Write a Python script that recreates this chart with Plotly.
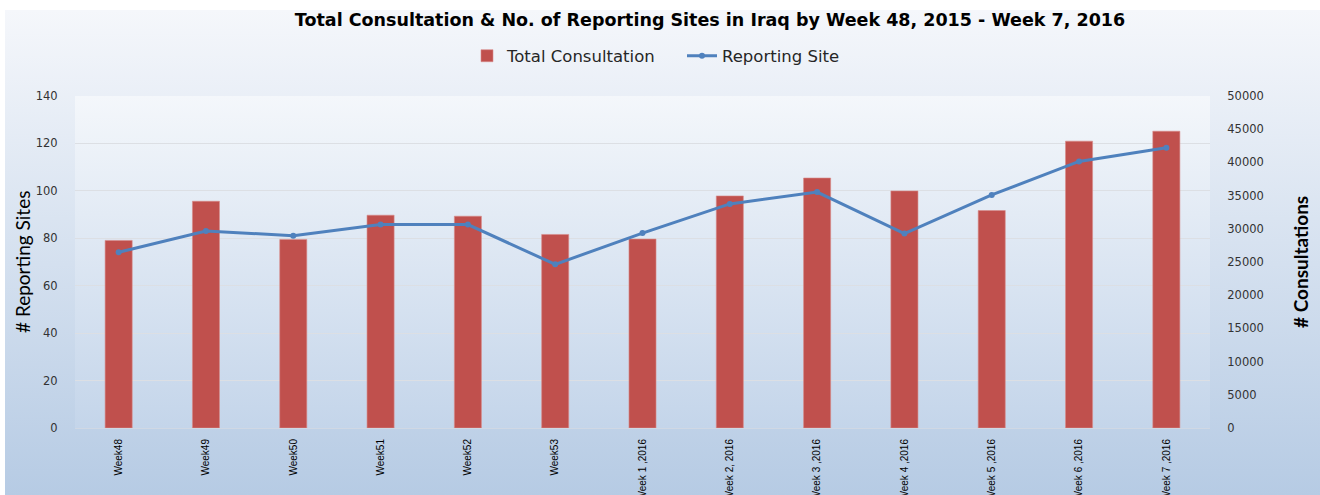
import base64
import plotly.graph_objects as go

weeks = ["Week48", "Week49", "Week50", "Week51", "Week52", "Week53",
         "Week 1 ,2016", "Week 2, 2016", "Week 3 ,2016", "Week 4 ,2016",
         "Week 5 ,2016", "Week 6 ,2016", "Week 7 ,2016"]
consultations = [28250, 34150, 28400, 32050, 31900, 29150,
                 28450, 34950, 37650, 35700, 32750, 43200, 44700]
reporting_sites = [74.1, 83.1, 81.1, 85.8, 85.8, 69.0,
                   82.2, 94.5, 99.5, 82.0, 98.3, 112.4, 118.2]

W, H = 1320, 495
L, R, T, B = 75, 110, 96, 67
pw, ph = W - L - R, H - T - B


def grad(top, bottom):
    svg = ('<svg xmlns="http://www.w3.org/2000/svg" width="100" height="100" preserveAspectRatio="none">'
           '<defs><linearGradient id="g" x1="0" y1="0" x2="0" y2="1">'
           f'<stop offset="0" stop-color="{top}"/><stop offset="1" stop-color="{bottom}"/>'
           '</linearGradient></defs><rect width="100" height="100" fill="url(#g)"/></svg>')
    return "data:image/svg+xml;base64," + base64.b64encode(svg.encode()).decode()


fig = go.Figure()
# bars on the base axis (right side), line on the overlay (left side) so it sits on top
fig.add_trace(go.Bar(x=weeks, y=consultations, name="Total Consultation",
                     marker=dict(color="#c0504d", line=dict(color="#d98c8a", width=0.6)),
                     yaxis="y"))
fig.add_trace(go.Scatter(x=weeks, y=reporting_sites, name="Reporting Site",
                         mode="lines+markers", yaxis="y2",
                         line=dict(color="#4f81bd", width=3),
                         marker=dict(size=6, color="#4f81bd")))

tick_font = dict(family="DejaVu Sans", size=11.5, color="#333333")

fig.update_layout(
    width=W, height=H,
    margin=dict(l=L, r=R, t=T, b=B, autoexpand=False),
    paper_bgcolor="white",
    plot_bgcolor="rgba(0,0,0,0)",
    bargap=0.69,
    title=dict(text="<b>Total Consultation & No. of Reporting Sites in Iraq by Week 48, 2015 - Week 7, 2016</b>",
               x=710 / W, xanchor="center", y=1 - 20 / H, yanchor="middle",
               font=dict(family="DejaVu Sans", size=17.5, color="black")),
    legend=dict(orientation="h", x=(467 - L) / pw, xanchor="left",
                y=1 + (T - 56) / ph, yanchor="middle", entrywidth=170,
                font=dict(family="DejaVu Sans", size=16.5, color="#262626"),
                bgcolor="rgba(0,0,0,0)", traceorder="normal"),
    xaxis=dict(range=[-0.5, 12.5], tickangle=-90,
               tickfont=dict(family="Liberation Sans", size=10, color="black"),
               showgrid=False, showline=True, linecolor="#d0d8e4", linewidth=1,
               ticks="outside", ticklen=6, tickcolor="rgba(0,0,0,0)", fixedrange=True,
               automargin=False),
    yaxis=dict(range=[0, 50000], dtick=5000, tickformat="d", side="right",
               showgrid=False, zeroline=False, ticks="outside", ticklen=14,
               tickcolor="rgba(0,0,0,0)", tickfont=tick_font, automargin=False),
    yaxis2=dict(range=[0, 140], dtick=20, overlaying="y", side="left",
                showgrid=True, gridcolor="#dcdfe4", gridwidth=1,
                zeroline=False, ticks="outside", ticklen=14, tickcolor="rgba(0,0,0,0)",
                tickfont=tick_font, automargin=False),
    images=[
        dict(source=grad("#f5f7fb", "#b6cbe4"), xref="paper", yref="paper",
             x=(5 - L) / pw, y=1 + (T - 10) / ph, sizex=(W - 5) / pw, sizey=(H - 10) / ph,
             xanchor="left", yanchor="top", sizing="stretch", layer="below"),
        dict(source=grad("#f4f7fb", "#c4d5ea"), xref="paper", yref="paper",
             x=0, y=1, sizex=1, sizey=1,
             xanchor="left", yanchor="top", sizing="stretch", layer="below"),
    ],
    annotations=[
        dict(text="# Reporting Sites", xref="paper", yref="paper",
             x=(22 - L) / pw, y=0.5, xanchor="center", yanchor="middle", textangle=-90,
             showarrow=False, font=dict(family="Lato", size=19, color="black")),
        dict(text="<b># Consultations</b>", xref="paper", yref="paper",
             x=(1300 - L) / pw, y=0.5, xanchor="center", yanchor="middle", textangle=-90,
             showarrow=False, font=dict(family="Lato", size=19, color="black")),
    ],
)

fig.write_html("out.html", config={"displayModeBar": False},
               post_script="document.body.style.margin='0';")
